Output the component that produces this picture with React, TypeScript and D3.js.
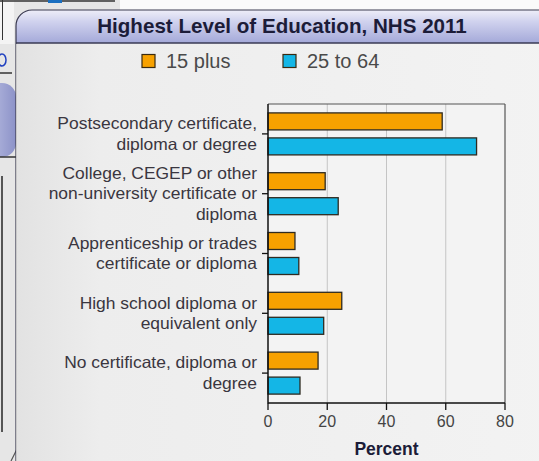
import React from "react";
import * as d3 from "d3";

const categories: string[][] = [
  ["Postsecondary certificate,", "diploma or degree"],
  ["College, CEGEP or other", "non-university certificate or", "diploma"],
  ["Apprenticeship or trades", "certificate or diploma"],
  ["High school diploma or", "equivalent only"],
  ["No certificate, diploma or", "degree"],
];
const seriesNames = ["15 plus", "25 to 64"];
const values15plus = [58.8, 19.3, 9.1, 24.9, 16.9];
const values25to64 = [70.4, 23.7, 10.4, 18.8, 10.8];
const xTicks = [0, 20, 40, 60, 80];
const title = "Highest Level of Education, NHS 2011";
const xTitle = "Percent";

const colors = ["#f7a100", "#14b6e6"];

export default function App() {
  const W = 539, H = 461;
  const left = 268, right = 505, top = 104, bottom = 403;
  const x = d3.scaleLinear().domain([0, 80]).range([left, right]);
  const yBand = d3.scaleBand<number>().domain(d3.range(categories.length)).range([top, bottom]).padding(0);
  const ySub = d3.scaleBand<number>().domain([0, 1]).range([0, yBand.bandwidth()]).paddingInner(0.32).paddingOuter(0.356);
  const series = [values15plus, values25to64];
  const font = "'Liberation Sans', Arial, sans-serif";
  const lineH = 20.5;

  return (
    <svg width={W} height={H} style={{ position: "absolute", left: 0, top: 0 }} fontFamily={font}>
      <defs>
        <linearGradient id="bodyG" x1="0" x2="1" y1="0" y2="0">
          <stop offset="0" stopColor="#e2e2e2" />
          <stop offset="0.15" stopColor="#ededed" />
          <stop offset="1" stopColor="#f3f3f3" />
        </linearGradient>
        <linearGradient id="headG" x1="0" x2="0" y1="0" y2="1">
          <stop offset="0" stopColor="#eeeef8" />
          <stop offset="0.35" stopColor="#d0d2ee" />
          <stop offset="1" stopColor="#a4a9d9" />
        </linearGradient>
        <linearGradient id="btnG" x1="0" x2="1" y1="0" y2="0">
          <stop offset="0" stopColor="#c4c8e8" />
          <stop offset="1" stopColor="#8c92c8" />
        </linearGradient>
        <clipPath id="panelClip">
          <rect x={16} y={10} width={560} height={500} rx={16} />
        </clipPath>
      </defs>
      {/* page background */}
      <rect x={0} y={0} width={W} height={H} fill="#e6e6e6" />
      <rect x={120} y={0} width={W - 120} height={10} fill="#fafafa" />
      {/* left-side fragments of other widgets */}
      <rect x={0} y={0} width={14} height={44} fill="#f4f4f4" />
      <line x1={0} y1={1} x2={115} y2={1} stroke="#333" strokeWidth={1.5} />
      <rect x={48} y={0} width={14} height={3} fill="#1a6fc0" />
      <line x1={2.5} y1={0} x2={2.5} y2={40} stroke="#333" strokeWidth={1} />
      <ellipse cx={2} cy={60} rx={4} ry={6} fill="none" stroke="#2040c0" strokeWidth={1.5} />
      <line x1={0} y1={73} x2={12} y2={73} stroke="#333" strokeWidth={1.5} />
      <rect x={-20} y={83} width={36} height={74} rx={14} fill="url(#btnG)" />
      <line x1={0} y1={157} x2={16} y2={157} stroke="#333" strokeWidth={1.5} />
      <line x1={2} y1={176} x2={2} y2={432} stroke="#555" strokeWidth={2} />
      <path d="M11,461 L16,451 L21,461" fill="none" stroke="#555" strokeWidth={1.2} />
      {/* panel */}
      <g clipPath="url(#panelClip)">
        <rect x={16} y={10} width={560} height={500} fill="url(#bodyG)" />
        <rect x={16} y={10} width={560} height={33} fill="url(#headG)" />
        <line x1={16} y1={43} x2={560} y2={43} stroke="#3a3a55" strokeWidth={1.5} />
      </g>
      <rect x={16} y={10} width={560} height={500} rx={16} fill="none" stroke="#3a3a50" strokeWidth={1.2} />
      <line x1={16.5} y1={44} x2={16.5} y2={461} stroke="#c8c8c8" strokeWidth={1} />
      <text x={282} y={33} textAnchor="middle" fontSize={20.6} fontWeight="bold" fill="#1c1c38">{title}</text>
      {/* legend */}
      {seriesNames.map((s, i) => {
        const lx = i === 0 ? 142 : 283;
        return (
          <g key={s}>
            <rect x={lx} y={54.5} width={13} height={13} fill={colors[i]} stroke="#3a2a10" strokeWidth={1.2} />
            <text x={lx + 24} y={68} fontSize={20} fill="#4a4a4a">{s}</text>
          </g>
        );
      })}
      {/* plot area */}
      <rect x={left} y={top} width={right - left} height={bottom - top} fill="#f3f3f3" />
      {xTicks.slice(1, -1).map((t) => (
        <line key={t} x1={x(t)} x2={x(t)} y1={top} y2={bottom} stroke="#c4c4c4" strokeWidth={1} />
      ))}
      <line x1={left} x2={right} y1={top} y2={top} stroke="#555" strokeWidth={1.2} />
      <line x1={right} x2={right} y1={top} y2={bottom} stroke="#555" strokeWidth={1.2} />
      {categories.map((c, ci) => (
        <g key={ci}>
          {series.map((vals, si) => {
            const y0 = (yBand(ci) as number) + (ySub(si) as number);
            return (
              <rect key={si} x={x(0)} y={y0} width={x(vals[ci]) - x(0)} height={ySub.bandwidth()}
                fill={colors[si]} stroke="#2e2a20" strokeWidth={1.3} />
            );
          })}
        </g>
      ))}
      {/* y axis */}
      <line x1={left} x2={left} y1={top} y2={bottom + 0.5} stroke="#111" strokeWidth={1.5} />
      {categories.map((c, ci) => {
        const cy = (yBand(ci) as number) + yBand.bandwidth() / 2;
        const n = c.length;
        return (
          <g key={ci}>
            <line x1={left - 6} x2={left} y1={cy} y2={cy} stroke="#111" strokeWidth={1.3} />
            {c.map((ln, li) => {
              const by = cy + (li - (n - 1) / 2) * lineH + 5.5;
              return (
                <g key={li} transform={`translate(257,${by}) scale(1.07,1)`}>
                  <text x={0} y={0} textAnchor="end" fontSize={16.3} fill="#3a3640">{ln}</text>
                </g>
              );
            })}
          </g>
        );
      })}
      {/* x axis */}
      <line x1={left} x2={right} y1={bottom} y2={bottom} stroke="#111" strokeWidth={1.5} />
      {xTicks.map((t) => (
        <g key={t}>
          <line x1={x(t)} x2={x(t)} y1={bottom} y2={bottom + 7} stroke="#111" strokeWidth={1.3} />
          <text x={x(t)} y={427} textAnchor="middle" fontSize={16} fill="#444">{t}</text>
        </g>
      ))}
      <text x={(left + right) / 2} y={455} textAnchor="middle" fontSize={17.5} fontWeight="bold" fill="#1c1c38">{xTitle}</text>
    </svg>
  );
}
